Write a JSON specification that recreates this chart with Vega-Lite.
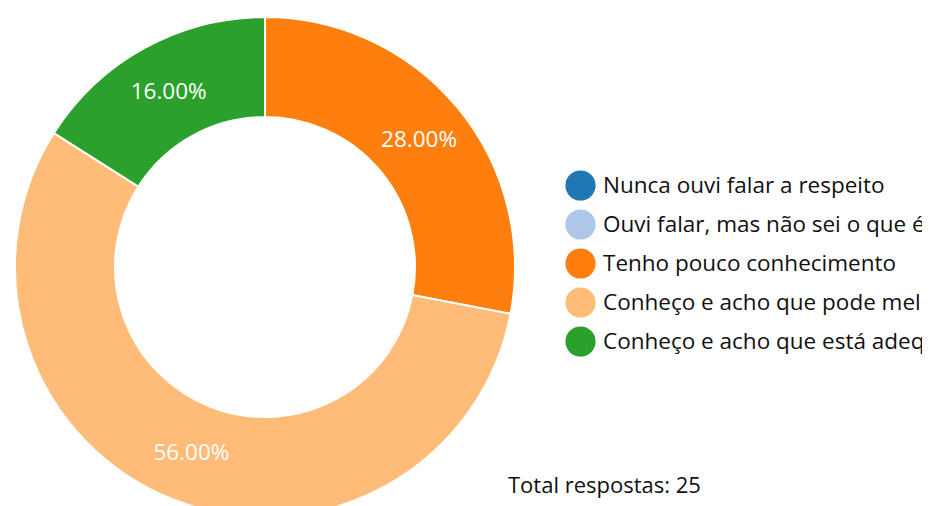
{
  "$schema": "https://vega.github.io/schema/vega-lite/v6.json",
  "width": 530,
  "height": 534,
  "autosize": {"type": "none"},
  "padding": {"left": 0, "top": 0, "right": 392, "bottom": 0},
  "background": "white",
  "config": {"view": {"stroke": null}, "font": "Open Sans"},
  "title": {
    "text": "Total respostas: 25",
    "orient": "bottom",
    "anchor": "start",
    "frame": "group",
    "offset": -58,
    "dx": 508,
    "fontSize": 22,
    "fontWeight": "normal",
    "font": "Open Sans",
    "color": "#111111"
  },
  "data": {
    "values": [
      {"resposta": "Nunca ouvi falar a respeito", "n": 0, "ordem": 1, "pct": ""},
      {"resposta": "Ouvi falar, mas não sei o que é", "n": 0, "ordem": 2, "pct": ""},
      {"resposta": "Tenho pouco conhecimento", "n": 7, "ordem": 3, "pct": "28.00%"},
      {"resposta": "Conheço e acho que pode melhorar", "n": 14, "ordem": 4, "pct": "56.00%"},
      {"resposta": "Conheço e acho que está adequado", "n": 4, "ordem": 5, "pct": "16.00%"}
    ]
  },
  "encoding": {
    "theta": {"field": "n", "type": "quantitative", "stack": true},
    "order": {"field": "ordem", "type": "quantitative"}
  },
  "layer": [
    {
      "mark": {"type": "arc", "outerRadius": 250, "innerRadius": 150, "stroke": "white", "strokeWidth": 2},
      "encoding": {
        "color": {
          "field": "resposta",
          "type": "nominal",
          "sort": ["Nunca ouvi falar a respeito", "Ouvi falar, mas não sei o que é", "Tenho pouco conhecimento", "Conheço e acho que pode melhorar", "Conheço e acho que está adequado"],
          "scale": {
            "domain": ["Nunca ouvi falar a respeito", "Ouvi falar, mas não sei o que é", "Tenho pouco conhecimento", "Conheço e acho que pode melhorar", "Conheço e acho que está adequado"],
            "range": ["#1f77b4", "#aec7e8", "#ff7f0e", "#ffbb78", "#2ca02c"]
          },
          "legend": {
            "title": null,
            "orient": "none",
            "legendX": 565,
            "legendY": 170,
            "symbolType": "circle",
            "symbolSize": 910,
            "symbolStrokeWidth": 0,
            "symbolOpacity": 1,
            "labelFont": "Open Sans",
            "labelFontSize": 22.5,
            "labelColor": "#111111",
            "labelOffset": 7,
            "labelLimit": 600,
            "rowPadding": 8,
            "padding": 0
          }
        }
      }
    },
    {
      "mark": {"type": "text", "radius": 200, "fontSize": 22.5, "color": "white", "font": "Open Sans"},
      "encoding": {"text": {"field": "pct", "type": "nominal"}}
    }
  ]
}
